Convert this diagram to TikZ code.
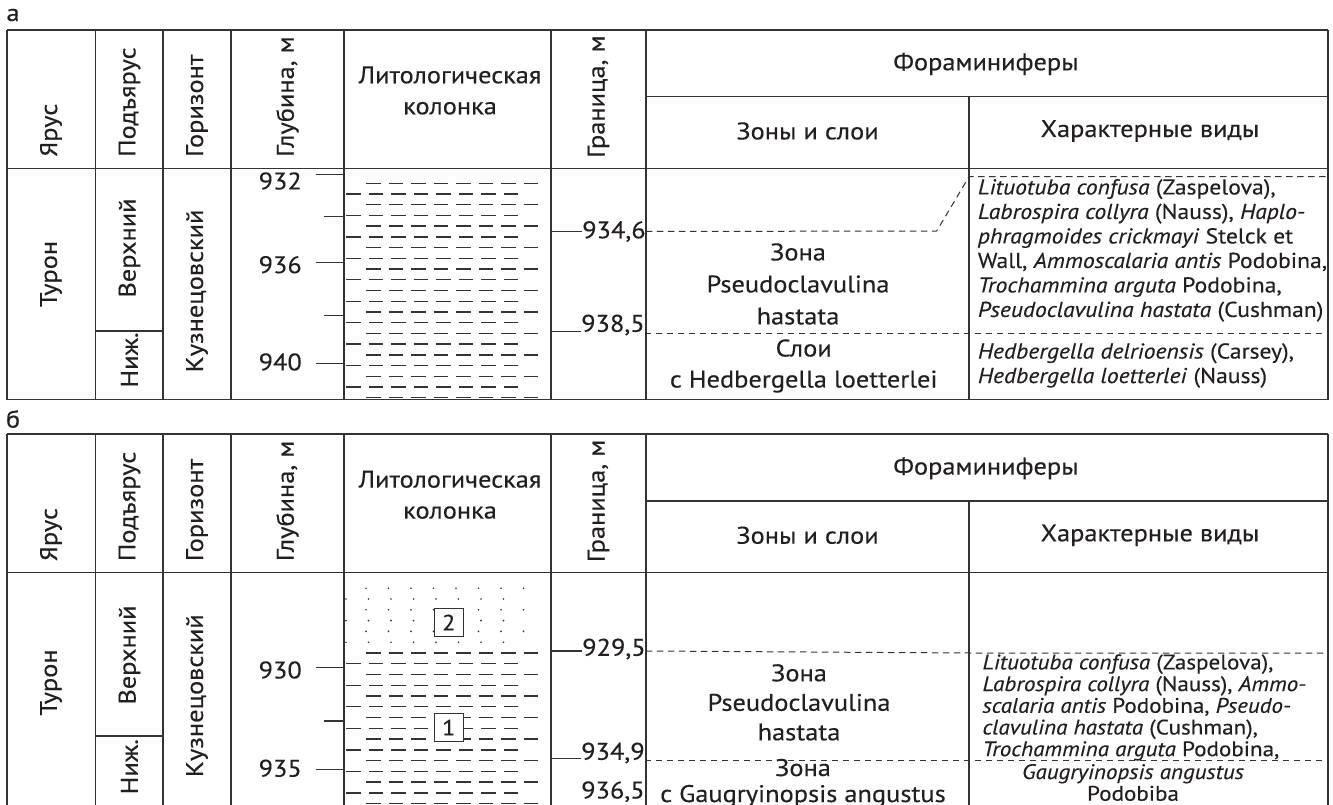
\documentclass[tikz,border=0pt]{standalone}
\usepackage{fontspec}
\setmainfont{PT Sans}[FakeStretch=1.1, FakeBold=0.3]
\usepackage{tikz}
\usetikzlibrary{positioning}
\definecolor{linegray}{HTML}{333333}
\definecolor{textblack}{HTML}{231F20}

\begin{document}
\begin{tikzpicture}[x=1pt,y=-1pt,
    frame/.style={draw=linegray, line width=1.7pt},
    rule/.style={draw=linegray, line width=1.3pt},
    bound/.style={draw=linegray, line width=1pt, dash pattern=on 6.5pt off 4.5pt},
    clay/.style={draw=linegray, line width=1.4pt},
    txt/.style={inner sep=0pt, text=textblack, font=\fontsize{24}{31}\selectfont},
    vtxt/.style={txt, rotate=90, anchor=west},
    spec/.style={inner sep=0pt, text=textblack, align=left, anchor=west},
    numbox/.style={draw=linegray, line width=1pt, fill=white, minimum width=29pt,
        minimum height=28pt, inner sep=0pt, text=textblack, font=\fontsize{22}{22}\selectfont}]
  \useasboundingbox (0,0) rectangle (1333,805);

  \node[txt] (lblA) at (13,15) {а};
  \node[txt] (lblB) at (13,419) {б};

  % header, same for both tables
  \foreach \t/\oy/\bot in {A/0/399.5, B/404.3/402}{
    \begin{scope}[shift={(0,\oy)}]
      \draw[frame] (7,30) -- (1328,30);
      \draw[rule] (7,168.3) -- (1328,168.3);
      \draw[rule] (646,96.7) -- (1328,96.7);
      \foreach \cx in {95.7,163,231,344,551,646}
        \draw[rule] (\cx,30) -- (\cx,\bot);
      \draw[rule] (969,96.7) -- (969,\bot);
      \draw[frame] (7,30) -- (7,\bot);
      \draw[frame] (1328,30) -- (1328,\bot);
      \node[vtxt] (yarus\t) at (51,157) {Ярус};
      \node[vtxt] (podyarus\t) at (129.5,157) {Подъярус};
      \node[vtxt] (gorizont\t) at (197,157) {Горизонт};
      \node[vtxt] (glubina\t) at (287.5,157) {Глубина, м};
      \node[txt, align=center] (litol\t) at (450,90.5) {Литологическая\\колонка};
      \node[vtxt] (granica\t) at (598.5,158) {Граница, м};
      \node[txt] (foram\t) at (986,64) {Фораминиферы};
      \node[txt] (zony\t) at (807.5,131) {Зоны и слои};
      \node[txt] (vidy\t) at (1150,131) {Характерные виды};
    \end{scope}
  }
  \draw[frame] (7,399.5) -- (1328,399.5);

  % table a
  \node[txt, rotate=90] (turonA) at (51,274) {Турон};
  \node[txt, rotate=90] (verkhA) at (129.5,248) {Верхний};
  \node[txt, rotate=90] (nizhA) at (129.5,360) {Ниж.};
  \node[txt, rotate=90] (kuznA) at (197,291) {Кузнецовский};
  \draw[rule] (95.7,331) -- (163,331);

  \node[txt, anchor=east] (d932) at (302,181) {932};
  \node[txt, anchor=east] (d936) at (302,264.7) {936};
  \node[txt, anchor=east] (d940) at (302,362) {940};
  \foreach \ty in {174.3,262.7,363.7}
    \draw[rule] (316,\ty) -- (344,\ty);
  \foreach \ty in {216.7,315.3}
    \draw[rule] (324,\ty) -- (344,\ty);

  \foreach \k in {0,...,20}{
    \pgfmathsetmacro{\ry}{183.3+10.72*\k}
    \pgfmathsetmacro{\rx}{isodd(\k) ? 346 : 366}
    \foreach \i in {0,...,7}
      \draw[clay] (\rx+22.5*\i,\ry) -- ++(14.7,0);
  }

  \node[txt, anchor=west] (g9346) at (582,231.5) {934,6};
  \node[txt, anchor=west] (g9385) at (581,325) {938,5};
  \coordinate (t9346) at (551,231.7);
  \coordinate (t9385) at (551,331.7);
  \draw[rule] (t9346) -- (t9346 -| g9346.west);
  \draw[rule] (t9385) -- (t9385 -| g9385.west);
  \coordinate (k9346) at (936.7,231);
  \coordinate (r9346) at (1328,176.7);
  \coordinate (b9385) at (1328,333);
  \draw[bound] (g9346.east) -- (k9346) -- (969,176.7) -- (r9346);
  \draw[bound] (g9385.east |- b9385) -- (b9385);

  \node[txt, align=center, font=\fontsize{24}{32}\selectfont] (zonaA) at (798,284)
    {Зона\\Pseudoclavulina\\hastata};
  \node[txt, align=center] (sloiA) at (803.7,366) {Слои\\с Hedbergella loetterlei};

  \node[spec, font=\fontsize{21.5}{24.5}\selectfont] (vidA1) at (977.7,250.4)
    {\textit{Lituotuba confusa} (Zaspelova),\\
     \textit{Labrospira collyra} (Nauss), \textit{Haplo-}\\
     \textit{phragmoides crickmayi} Stelck et\\
     Wall, \textit{Ammoscalaria antis} Podobina,\\
     \textit{Trochammina arguta} Podobina,\\
     \textit{Pseudoclavulina hastata} (Cushman)};
  \node[spec, font=\fontsize{21.5}{24.5}\selectfont] (vidA2) at (977.7,365.5)
    {\textit{Hedbergella delrioensis} (Carsey),\\
     \textit{Hedbergella loetterlei} (Nauss)};

  % table b
  \node[txt, rotate=90] (turonB) at (51,682.5) {Турон};
  \node[txt, rotate=90] (verkhB) at (129.5,655) {Верхний};
  \node[txt, rotate=90] (nizhB) at (129.5,766.7) {Ниж.};
  \node[txt, rotate=90] (kuznB) at (197,695.7) {Кузнецовский};
  \draw[rule] (95.7,736) -- (163,736);

  \node[txt, anchor=east] (d930) at (302,670) {930};
  \node[txt, anchor=east] (d935) at (302,768.3) {935};
  \foreach \ty in {667.7,769.3}
    \draw[rule] (316,\ty) -- (344,\ty);
  \draw[rule] (324,721) -- (344,721);

  \foreach \k in {0,...,20}{
    \pgfmathsetmacro{\ry}{588.3+10.77*\k}
    \pgfmathsetmacro{\rx}{isodd(\k) ? 346 : 366}
    \ifnum\k<6
      \foreach \i in {0,...,7}
        \fill[linegray] (\rx+22.5*\i,\ry) circle (0.9);
    \else
      \foreach \i in {0,...,7}
        \draw[clay] (\rx+22.5*\i,\ry) -- ++(14.7,0);
    \fi
  }
  \node[numbox] (sloj2) at (448.7,622.5) {2};
  \node[numbox] (sloj1) at (448.7,727.5) {1};

  \node[txt, anchor=west] (g9295) at (582,649) {929,5};
  \node[txt, anchor=west] (g9349) at (581,753) {934,9};
  \node[txt, anchor=west] (g9365) at (581,791.7) {936,5};
  \coordinate (t9295) at (551,651);
  \coordinate (t9349) at (551,758.3);
  \draw[rule] (t9295) -- (t9295 -| g9295.west);
  \draw[rule] (t9349) -- (t9349 -| g9349.west);
  \coordinate (b9295) at (1328,653);
  \coordinate (b9349) at (1328,760);
  \draw[bound] (g9295.east |- t9295) -- (969,653) -- (b9295);
  \draw[bound] (g9349.east |- b9349) -- (b9349);

  \node[txt, align=center, font=\fontsize{24}{29.5}\selectfont] (zonaB) at (799,702.4)
    {Зона\\Pseudoclavulina\\hastata};
  \node[txt, align=center, font=\fontsize{24}{26}\selectfont] (zonaB2) at (803,783)
    {Зона\\с Gaugryinopsis angustus};

  \node[spec, font=\fontsize{21}{21.7}\selectfont] (vidB1) at (982.3,707.5)
    {\textit{Lituotuba confusa} (Zaspelova),\\
     \textit{Labrospira collyra} (Nauss), \textit{Ammo-}\\
     \textit{scalaria antis} Podobina, \textit{Pseudo-}\\
     \textit{clavulina hastata} (Cushman),\\
     \textit{Trochammina arguta} Podobina,};
  \node[txt, align=center, font=\fontsize{21}{21.7}\selectfont] (vidB2) at (1133,782.5)
    {\textit{Gaugryinopsis angustus}\\Podobiba};
\end{tikzpicture}
\end{document}
